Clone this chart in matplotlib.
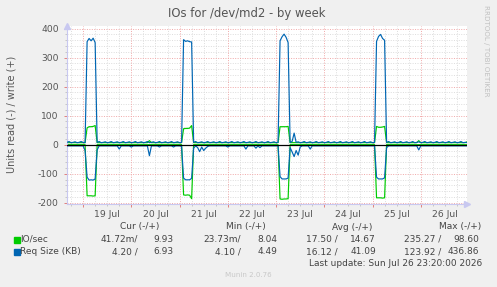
import numpy as np
import matplotlib
matplotlib.use("Agg")
import matplotlib.pyplot as plt
import matplotlib.transforms as mtransforms
from matplotlib.patches import Rectangle

# ---------------- data (hourly samples, hour 0 = Jul 18 00:00) ----------------
START_HOUR = 16  # first sample: Jul 18 16:00

# IO/sec write (+)
io_write_rows = [
    "7 7 7 7 7 7 7 7",
    "7 7 58 62 62 63 66 7 7 7 7 7 7 7 7 7 7 7 7 7 7 7 7 7",
    "7 7 7 7 7 7 7 7 7 14 7 7 7 7 7 7 7 7 7 7 7 7 7 7",
    "7 7 55 56 56 57 66 7 7 7 7 7 7 7 7 7 7 7 7 7 7 7 7 7",
    "7 7 7 7 7 7 7 7 7 7 7 7 7 7 7 7 7 7 7 7 7 7 7 7",
    "7 7 62 62 62 62 63 7 7 7 7 7 7 7 7 7 7 7 7 7 7 7 7 7",
    "7 7 7 7 7 7 7 7 7 7 7 7 7 7 7 7 7 7 7 7 7 7 7 7",
    "7 7 63 60 60 61 63 7 7 7 7 7 7 7 7 7 7 7 7 7 7 7 7 14",
    "7 7 7 7 7 7 7 7 7 7 7 7 7 7 7 7 7 7 7 7 7 7 7 10",
]
# IO/sec read (-), magnitudes
io_read_rows = [
    "0 0 0 0 0 0 0 0",
    "0 0 176 176 176 177 176 0 0 0 0 0 0 0 0 0 0 0 0 0 0 0 0 0",
    "0 0 0 0 0 0 0 0 0 0 0 0 0 0 0 0 0 0 0 0 0 0 0 0",
    "0 0 173 174 173 174 186 0 0 0 0 0 0 0 0 0 0 0 0 0 0 0 0 0",
    "0 0 0 0 0 0 0 0 0 0 0 0 0 0 0 0 0 0 0 0 0 0 0 0",
    "0 0 187 188 187 187 186 0 0 0 0 0 0 0 0 0 0 0 0 0 0 0 0 0",
    "0 0 0 0 0 0 0 0 0 0 0 0 0 0 0 0 0 0 0 0 0 0 0 0",
    "0 0 183 183 183 184 183 0 0 0 0 0 0 0 0 0 0 0 0 0 0 0 0 0",
    "0 0 0 0 0 0 0 0 0 0 0 0 0 0 0 0 0 0 0 0 0 0 0 0",
]
# Req Size write (+)
req_write_rows = [
    "8 11 7 8 10 7 8 11",
    "8 7 355 366 358 367 352 8 11 7 8 10 7 8 11 7 8 10 7 8 11 7 8 10",
    "7 8 11 7 8 10 7 8 11 7 8 10 7 8 11 7 8 10 7 8 11 7 8 10",
    "7 8 362 356 358 355 354 8 11 7 8 10 7 8 11 7 8 10 7 8 11 7 8 10",
    "7 8 11 7 8 10 7 8 11 7 8 10 7 8 11 7 8 10 7 8 11 7 8 10",
    "7 8 358 372 381 370 352 8 11 40 8 10 7 8 11 7 8 10 7 8 11 7 8 10",
    "7 8 11 7 8 10 7 8 11 7 8 10 7 8 11 7 8 10 7 8 11 7 8 10",
    "7 8 356 373 380 366 360 8 11 7 8 10 7 8 11 7 8 10 7 8 11 7 8 10",
    "7 8 11 7 8 10 7 8 11 7 8 10 7 8 11 7 8 10 7 8 11 7 8 7",
]
# Req Size read (-), magnitudes
req_read_rows = [
    "4 4 4 4 4 4 4 4",
    "4 20 112 122 121 122 118 18 4 4 4 4 4 4 4 4 4 4 15 4 4 4 4 4",
    "8 4 4 4 4 4 4 4 4 38 4 4 4 4 8 4 4 4 4 4 4 8 4 4",
    "4 6 115 121 121 121 116 12 4 10 24 8 20 12 6 4 4 4 4 4 4 4 4 4",
    "8 4 4 4 4 4 4 4 4 15 4 4 4 4 12 4 10 4 4 4 4 4 4 4",
    "4 4 110 118 118 118 115 10 25 41 20 36 8 4 4 4 4 15 4 4 4 4 4 4",
    "4 4 4 4 4 4 4 4 4 4 4 4 4 4 4 4 4 4 4 4 4 4 4 4",
    "4 4 112 118 118 118 114 10 4 4 4 4 4 4 4 4 4 4 4 4 4 4 4 18",
    "4 4 4 4 4 4 4 4 4 4 4 4 4 4 4 4 4 4 4 4 4 4 4 4",
]

day_labels = ["19 Jul", "20 Jul", "21 Jul", "22 Jul", "23 Jul", "24 Jul", "25 Jul", "26 Jul"]
y_ticks = [-200, -100, 0, 100, 200, 300, 400]

series_names = ["IO/sec", "Req Size (KB)"]
cur_vals = [("41.72m/", "9.93"), ("4.20 /", "6.93")]
min_vals = [("23.73m/", "8.04"), ("4.10 /", "4.49")]
avg_vals = [("17.50 /", "14.67"), ("16.12 /", "41.09")]
max_vals = [("235.27 /", "98.60"), ("123.92 /", "436.86")]
col_headers = ["Cur (-/+)", "Min (-/+)", "Avg (-/+)", "Max (-/+)"]


def parse(rows):
    return np.array([float(v) for r in rows for v in r.split()])


io_w = parse(io_write_rows)
io_r = parse(io_read_rows)
rq_w = parse(req_write_rows)
rq_r = parse(req_read_rows)
hours = START_HOUR + np.arange(len(io_w))

GREEN = "#00CC00"
BLUE = "#0066B3"

W, H = 497, 287
fig = plt.figure(figsize=(W / 100, H / 100), dpi=100, facecolor="#F0F0F0")
ax = fig.add_axes([67 / W, 1 - 203.5 / H, 400 / W, 177.5 / H])
ax.set_facecolor("white")
ax.set_xlim(16.0, 215.0)
ax.set_ylim(-202.6, 409)

# grid
minor_col = "#DCDCDC"
major_col = "#F0A8A8"
dots = (0, (1, 1.5))
for h in range(18, 216, 6):
    if h % 24:
        ax.axvline(h, color=minor_col, lw=0.7, ls=dots, zorder=0)
for v in range(-200, 401, 20):
    if v % 100:
        ax.axhline(v, color=minor_col, lw=0.7, ls=dots, zorder=0)
for h in range(24, 216, 24):
    ax.axvline(h, color=major_col, lw=0.7, ls=dots, zorder=0.5)
for v in y_ticks:
    ax.axhline(v, color=major_col, lw=0.7, ls=dots, zorder=0.5)

# series
LW = 0.85
ax.plot(hours, io_w, color=GREEN, lw=LW, zorder=2)
ax.plot(hours, -io_r, color=GREEN, lw=LW, zorder=2)
ax.plot(hours, rq_w, color=BLUE, lw=LW, zorder=3)
ax.plot(hours, -rq_r, color=BLUE, lw=LW, zorder=3)
ax.axhline(0, color="black", lw=0.9, zorder=4)

# axes styling
axis_col = "#C8C8F0"
for s in ["top", "right"]:
    ax.spines[s].set_visible(False)
for s in ["left", "bottom"]:
    ax.spines[s].set_color(axis_col)
    ax.spines[s].set_linewidth(0.8)
ax.plot([1], [0], marker=">", color=axis_col, ms=4, transform=ax.transAxes, clip_on=False)
ax.plot([0], [1], marker="^", color=axis_col, ms=4, transform=ax.transAxes, clip_on=False)

ax.set_xticks(range(24, 216, 24))
ax.set_xticks(range(18, 216, 6), minor=True)
ax.set_xticklabels([])
ax.set_yticks(y_ticks)
ax.set_yticks(range(-200, 401, 20), minor=True)
ax.set_yticklabels([str(v) for v in y_ticks])
ax.tick_params(axis="both", which="major", color="#E08080", length=2, width=0.7)
ax.tick_params(axis="both", which="minor", color="#C0C0C0", length=1.5, width=0.6)
ax.tick_params(axis="y", labelsize=6.6, labelcolor="#555555", pad=4)

text_col = "#555555"
trans = mtransforms.blended_transform_factory(ax.transData, ax.transAxes)
for i, lab in enumerate(day_labels):
    ax.text(36 + 24 * i, -0.06, lab, transform=trans, ha="center", va="center",
            fontsize=6.7, color=text_col)


def px(x, y):
    return x / W, 1 - y / H


fig.text(*px(247, 13), "IOs for /dev/md2 - by week", ha="center", va="center",
         fontsize=8.4, color=text_col)
fig.text(*px(12, 114.7), "Units read (-) / write (+)", ha="center", va="center",
         rotation=90, fontsize=7.0, color=text_col)
fig.text(*px(486, 5), "RRDTOOL / TOBI OETIKER", ha="center", va="top",
         rotation=270, fontsize=5.1, color="#C0C0C0")

leg_col = "#444444"
fs = 6.5
for x, t in zip([140, 246, 352, 460], col_headers):
    fig.text(*px(x, 227), t, ha="center", va="center", fontsize=fs, color=leg_col)

row_y = [239.5, 251.7]
colors = [GREEN, BLUE]
read_right = [138, 241, 338, 441]
write_right = [173, 277, 376, 479]
for r in range(2):
    fig.patches.append(Rectangle(px(14, row_y[r] + 3), 5.5 / W, 5.5 / H,
                                 transform=fig.transFigure, color=colors[r]))
    fig.text(*px(20, row_y[r]), series_names[r], ha="left", va="center",
             fontsize=fs, color=leg_col)
    for c, vals in enumerate([cur_vals, min_vals, avg_vals, max_vals]):
        fig.text(*px(read_right[c], row_y[r]), vals[r][0], ha="right", va="center",
                 fontsize=fs, color=leg_col)
        fig.text(*px(write_right[c], row_y[r]), vals[r][1], ha="right", va="center",
                 fontsize=fs, color=leg_col)

fig.text(*px(482, 263.3), "Last update: Sun Jul 26 23:20:00 2026", ha="right",
         va="center", fontsize=fs, color=leg_col)
fig.text(*px(248, 274.7), "Munin 2.0.76", ha="center", va="center",
         fontsize=5.1, color="#C8C8C8")

fig.savefig("out.png", dpi=100, facecolor=fig.get_facecolor())
